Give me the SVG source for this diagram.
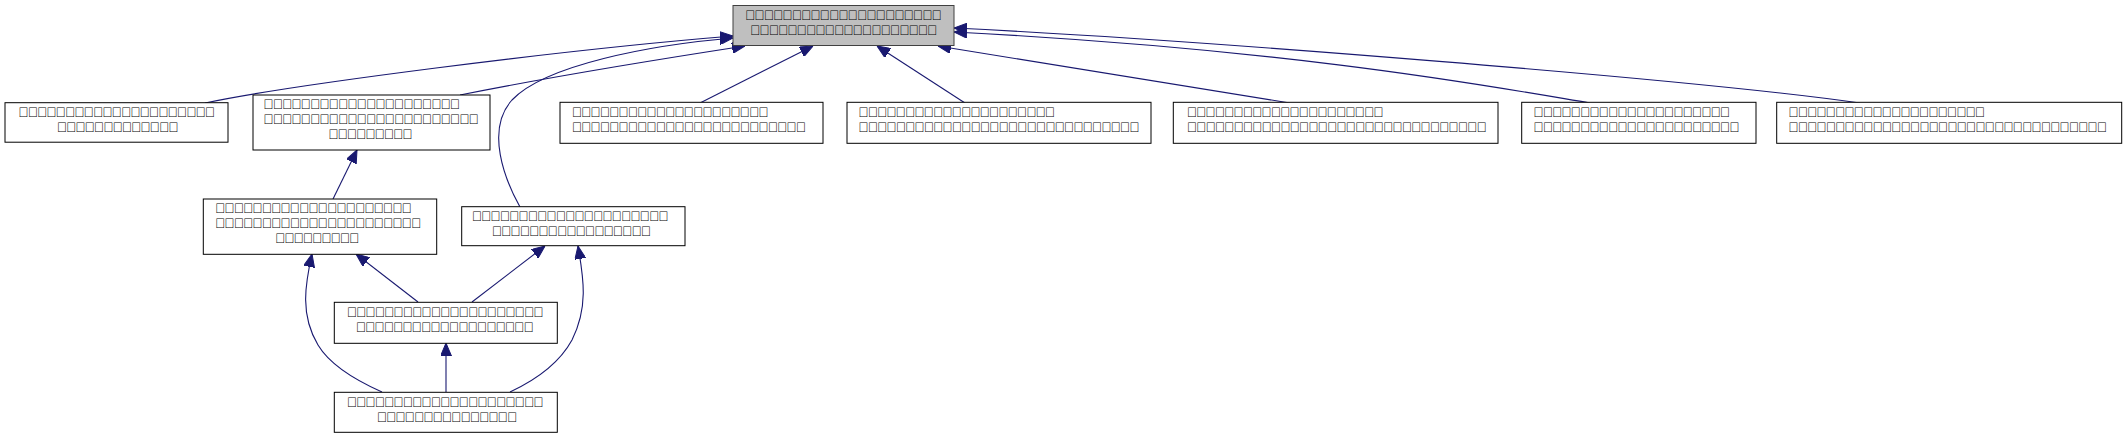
<svg xmlns="http://www.w3.org/2000/svg" width="2125" height="439" viewBox="0 0 2125 439">
<style>
.n rect{fill:#ffffff;stroke:#000000;stroke-width:1}
.n.root rect{fill:#bfbfbf;stroke:#404040}
.n text{font-family:"Liberation Sans",sans-serif;font-size:14px;fill:#000000}
#edges path{fill:none;stroke:#191970;stroke-width:1.1;marker-end:url(#ah)}
</style>
<defs>
<marker id="ah" markerUnits="userSpaceOnUse" markerWidth="13" markerHeight="11" refX="13" refY="5.5" orient="auto">
<path d="M0,0 L13,5.5 L0,11 z" fill="#191970" stroke="#191970" stroke-width="1"/>
</marker>
</defs>
<rect x="0" y="0" width="2125" height="439" fill="#ffffff"/>
<g id="edges">
<path d="M 205,103 C 290,85 560,50 733,36"/>
<path d="M 520,207 C 505,180 485,130 512,100 C 545,65 650,45 733,38"/>
<path d="M 460,95 C 560,75 680,56 745,46"/>
<path d="M 700,103 L 813,46"/>
<path d="M 965,103 L 877,46"/>
<path d="M 1290,103 L 938,46"/>
<path d="M 1590,103 C 1500,88 1300,50 954,32"/>
<path d="M 1860,103 C 1700,80 1200,40 954,28"/>
<path d="M 333,199 L 357,150"/>
<path d="M 418,302 L 356,254"/>
<path d="M 472,302 L 545,246"/>
<path d="M 446,392 L 446,343"/>
<path d="M 382,392 C 355,380 330,365 318,345 C 300,315 305,285 312,254"/>
<path d="M 510,392 C 540,378 560,362 572,340 C 588,308 584,280 578,246"/>
</g>
<g id="node-root" class="n root">
<rect x="733" y="5.5" width="221" height="40"/>
<text x="745" y="20" textLength="197" lengthAdjust="spacing">&#xE000;&#xE000;&#xE000;&#xE000;&#xE000;&#xE000;&#xE000;&#xE000;&#xE000;&#xE000;&#xE000;&#xE000;&#xE000;&#xE000;&#xE000;&#xE000;&#xE000;&#xE000;&#xE000;&#xE000;&#xE000;</text>
<text x="750" y="35" textLength="187.6" lengthAdjust="spacing">&#xE000;&#xE000;&#xE000;&#xE000;&#xE000;&#xE000;&#xE000;&#xE000;&#xE000;&#xE000;&#xE000;&#xE000;&#xE000;&#xE000;&#xE000;&#xE000;&#xE000;&#xE000;&#xE000;&#xE000;</text>
</g>
<g id="node-a" class="n">
<rect x="5" y="102.7" width="223" height="39.5"/>
<text x="18.3" y="117" textLength="197" lengthAdjust="spacing">&#xE000;&#xE000;&#xE000;&#xE000;&#xE000;&#xE000;&#xE000;&#xE000;&#xE000;&#xE000;&#xE000;&#xE000;&#xE000;&#xE000;&#xE000;&#xE000;&#xE000;&#xE000;&#xE000;&#xE000;&#xE000;</text>
<text x="56.7" y="132" textLength="122" lengthAdjust="spacing">&#xE000;&#xE000;&#xE000;&#xE000;&#xE000;&#xE000;&#xE000;&#xE000;&#xE000;&#xE000;&#xE000;&#xE000;&#xE000;</text>
</g>
<g id="node-b" class="n">
<rect x="253" y="95" width="237" height="55"/>
<text x="263.3" y="108.5" textLength="197" lengthAdjust="spacing">&#xE000;&#xE000;&#xE000;&#xE000;&#xE000;&#xE000;&#xE000;&#xE000;&#xE000;&#xE000;&#xE000;&#xE000;&#xE000;&#xE000;&#xE000;&#xE000;&#xE000;&#xE000;&#xE000;&#xE000;&#xE000;</text>
<text x="263.3" y="123.5" textLength="215.7" lengthAdjust="spacing">&#xE000;&#xE000;&#xE000;&#xE000;&#xE000;&#xE000;&#xE000;&#xE000;&#xE000;&#xE000;&#xE000;&#xE000;&#xE000;&#xE000;&#xE000;&#xE000;&#xE000;&#xE000;&#xE000;&#xE000;&#xE000;&#xE000;&#xE000;</text>
<text x="328.3" y="138.5" textLength="84.4" lengthAdjust="spacing">&#xE000;&#xE000;&#xE000;&#xE000;&#xE000;&#xE000;&#xE000;&#xE000;&#xE000;</text>
</g>
<g id="node-c" class="n">
<rect x="560" y="102.3" width="263" height="41"/>
<text x="571.7" y="116.7" textLength="197" lengthAdjust="spacing">&#xE000;&#xE000;&#xE000;&#xE000;&#xE000;&#xE000;&#xE000;&#xE000;&#xE000;&#xE000;&#xE000;&#xE000;&#xE000;&#xE000;&#xE000;&#xE000;&#xE000;&#xE000;&#xE000;&#xE000;&#xE000;</text>
<text x="571.7" y="131.7" textLength="234.5" lengthAdjust="spacing">&#xE000;&#xE000;&#xE000;&#xE000;&#xE000;&#xE000;&#xE000;&#xE000;&#xE000;&#xE000;&#xE000;&#xE000;&#xE000;&#xE000;&#xE000;&#xE000;&#xE000;&#xE000;&#xE000;&#xE000;&#xE000;&#xE000;&#xE000;&#xE000;&#xE000;</text>
</g>
<g id="node-d" class="n">
<rect x="847" y="102.3" width="304" height="41"/>
<text x="858.3" y="116.7" textLength="197" lengthAdjust="spacing">&#xE000;&#xE000;&#xE000;&#xE000;&#xE000;&#xE000;&#xE000;&#xE000;&#xE000;&#xE000;&#xE000;&#xE000;&#xE000;&#xE000;&#xE000;&#xE000;&#xE000;&#xE000;&#xE000;&#xE000;&#xE000;</text>
<text x="858.3" y="131.7" textLength="281.4" lengthAdjust="spacing">&#xE000;&#xE000;&#xE000;&#xE000;&#xE000;&#xE000;&#xE000;&#xE000;&#xE000;&#xE000;&#xE000;&#xE000;&#xE000;&#xE000;&#xE000;&#xE000;&#xE000;&#xE000;&#xE000;&#xE000;&#xE000;&#xE000;&#xE000;&#xE000;&#xE000;&#xE000;&#xE000;&#xE000;&#xE000;&#xE000;</text>
</g>
<g id="node-e" class="n">
<rect x="1173.3" y="102.3" width="324.7" height="41"/>
<text x="1186.7" y="116.7" textLength="197" lengthAdjust="spacing">&#xE000;&#xE000;&#xE000;&#xE000;&#xE000;&#xE000;&#xE000;&#xE000;&#xE000;&#xE000;&#xE000;&#xE000;&#xE000;&#xE000;&#xE000;&#xE000;&#xE000;&#xE000;&#xE000;&#xE000;&#xE000;</text>
<text x="1186.7" y="131.7" textLength="300.2" lengthAdjust="spacing">&#xE000;&#xE000;&#xE000;&#xE000;&#xE000;&#xE000;&#xE000;&#xE000;&#xE000;&#xE000;&#xE000;&#xE000;&#xE000;&#xE000;&#xE000;&#xE000;&#xE000;&#xE000;&#xE000;&#xE000;&#xE000;&#xE000;&#xE000;&#xE000;&#xE000;&#xE000;&#xE000;&#xE000;&#xE000;&#xE000;&#xE000;&#xE000;</text>
</g>
<g id="node-f" class="n">
<rect x="1521.7" y="102.3" width="234.3" height="41"/>
<text x="1533.3" y="116.7" textLength="197" lengthAdjust="spacing">&#xE000;&#xE000;&#xE000;&#xE000;&#xE000;&#xE000;&#xE000;&#xE000;&#xE000;&#xE000;&#xE000;&#xE000;&#xE000;&#xE000;&#xE000;&#xE000;&#xE000;&#xE000;&#xE000;&#xE000;&#xE000;</text>
<text x="1533.3" y="131.7" textLength="206.4" lengthAdjust="spacing">&#xE000;&#xE000;&#xE000;&#xE000;&#xE000;&#xE000;&#xE000;&#xE000;&#xE000;&#xE000;&#xE000;&#xE000;&#xE000;&#xE000;&#xE000;&#xE000;&#xE000;&#xE000;&#xE000;&#xE000;&#xE000;&#xE000;</text>
</g>
<g id="node-g" class="n">
<rect x="1776.7" y="102.3" width="345" height="41"/>
<text x="1788.3" y="116.7" textLength="197" lengthAdjust="spacing">&#xE000;&#xE000;&#xE000;&#xE000;&#xE000;&#xE000;&#xE000;&#xE000;&#xE000;&#xE000;&#xE000;&#xE000;&#xE000;&#xE000;&#xE000;&#xE000;&#xE000;&#xE000;&#xE000;&#xE000;&#xE000;</text>
<text x="1788.3" y="131.7" textLength="318.9" lengthAdjust="spacing">&#xE000;&#xE000;&#xE000;&#xE000;&#xE000;&#xE000;&#xE000;&#xE000;&#xE000;&#xE000;&#xE000;&#xE000;&#xE000;&#xE000;&#xE000;&#xE000;&#xE000;&#xE000;&#xE000;&#xE000;&#xE000;&#xE000;&#xE000;&#xE000;&#xE000;&#xE000;&#xE000;&#xE000;&#xE000;&#xE000;&#xE000;&#xE000;&#xE000;&#xE000;</text>
</g>
<g id="node-h" class="n">
<rect x="203.3" y="199" width="233.4" height="55.3"/>
<text x="215" y="212.5" textLength="197" lengthAdjust="spacing">&#xE000;&#xE000;&#xE000;&#xE000;&#xE000;&#xE000;&#xE000;&#xE000;&#xE000;&#xE000;&#xE000;&#xE000;&#xE000;&#xE000;&#xE000;&#xE000;&#xE000;&#xE000;&#xE000;&#xE000;&#xE000;</text>
<text x="215" y="227.5" textLength="206.4" lengthAdjust="spacing">&#xE000;&#xE000;&#xE000;&#xE000;&#xE000;&#xE000;&#xE000;&#xE000;&#xE000;&#xE000;&#xE000;&#xE000;&#xE000;&#xE000;&#xE000;&#xE000;&#xE000;&#xE000;&#xE000;&#xE000;&#xE000;&#xE000;</text>
<text x="275" y="242.5" textLength="84.4" lengthAdjust="spacing">&#xE000;&#xE000;&#xE000;&#xE000;&#xE000;&#xE000;&#xE000;&#xE000;&#xE000;</text>
</g>
<g id="node-i" class="n">
<rect x="461.7" y="206.7" width="223.3" height="39"/>
<text x="471.7" y="221" textLength="197" lengthAdjust="spacing">&#xE000;&#xE000;&#xE000;&#xE000;&#xE000;&#xE000;&#xE000;&#xE000;&#xE000;&#xE000;&#xE000;&#xE000;&#xE000;&#xE000;&#xE000;&#xE000;&#xE000;&#xE000;&#xE000;&#xE000;&#xE000;</text>
<text x="491.7" y="236" textLength="159.5" lengthAdjust="spacing">&#xE000;&#xE000;&#xE000;&#xE000;&#xE000;&#xE000;&#xE000;&#xE000;&#xE000;&#xE000;&#xE000;&#xE000;&#xE000;&#xE000;&#xE000;&#xE000;&#xE000;</text>
</g>
<g id="node-j" class="n">
<rect x="334.3" y="302.3" width="223" height="41"/>
<text x="346.7" y="316.7" textLength="197" lengthAdjust="spacing">&#xE000;&#xE000;&#xE000;&#xE000;&#xE000;&#xE000;&#xE000;&#xE000;&#xE000;&#xE000;&#xE000;&#xE000;&#xE000;&#xE000;&#xE000;&#xE000;&#xE000;&#xE000;&#xE000;&#xE000;&#xE000;</text>
<text x="355.7" y="331.7" textLength="178.2" lengthAdjust="spacing">&#xE000;&#xE000;&#xE000;&#xE000;&#xE000;&#xE000;&#xE000;&#xE000;&#xE000;&#xE000;&#xE000;&#xE000;&#xE000;&#xE000;&#xE000;&#xE000;&#xE000;&#xE000;&#xE000;</text>
</g>
<g id="node-k" class="n">
<rect x="334.3" y="392.3" width="223" height="40"/>
<text x="346.7" y="406.7" textLength="197" lengthAdjust="spacing">&#xE000;&#xE000;&#xE000;&#xE000;&#xE000;&#xE000;&#xE000;&#xE000;&#xE000;&#xE000;&#xE000;&#xE000;&#xE000;&#xE000;&#xE000;&#xE000;&#xE000;&#xE000;&#xE000;&#xE000;&#xE000;</text>
<text x="376.7" y="421.7" textLength="140.7" lengthAdjust="spacing">&#xE000;&#xE000;&#xE000;&#xE000;&#xE000;&#xE000;&#xE000;&#xE000;&#xE000;&#xE000;&#xE000;&#xE000;&#xE000;&#xE000;&#xE000;</text>
</g>
</svg>
